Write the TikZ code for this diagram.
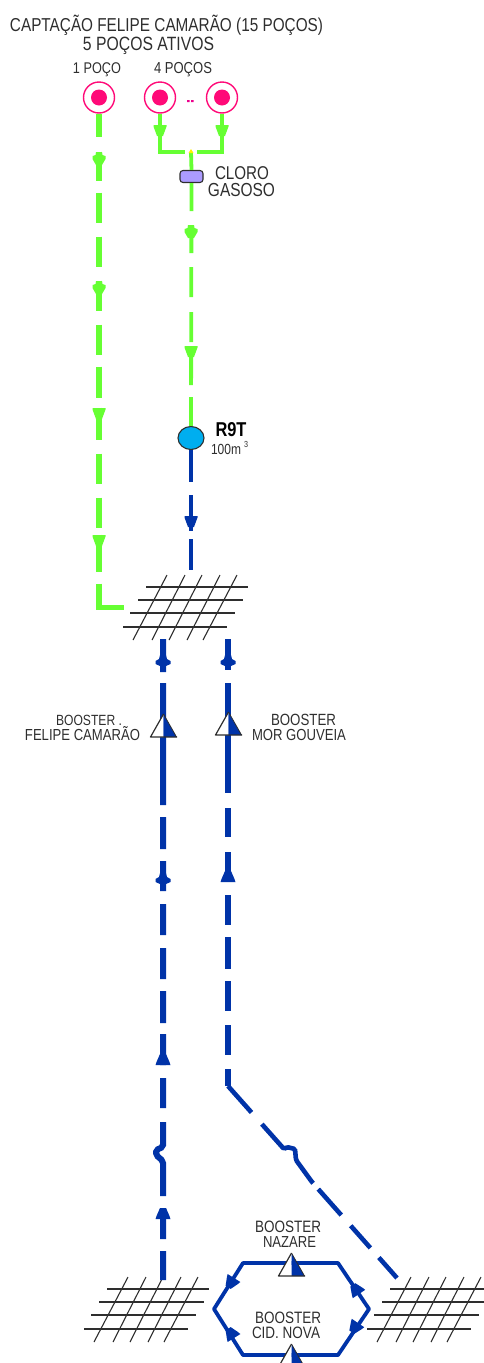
\documentclass[tikz,border=0pt]{standalone}
\usepackage{fontspec}
\usetikzlibrary{shapes.geometric}
\setmainfont{Liberation Sans}
\definecolor{pipegreen}{HTML}{66FF33}
\definecolor{pipeblue}{HTML}{0033A8}
\definecolor{wellpink}{HTML}{FF0A78}
\definecolor{tankblue}{HTML}{00AEEF}
\definecolor{gaspurple}{HTML}{AC9BFF}
\definecolor{ink}{HTML}{2E2E2E}
\newcommand{\lbl}[2]{\scalebox{1}[1.22]{\resizebox{#1pt}{!}{#2}}}
\tikzset{
  x=1pt,y=-1pt,
  well/.style={circle,draw=wellpink,line width=1.4pt,fill=white,minimum size=31pt,inner sep=0pt,
    path picture={\fill[wellpink] (path picture bounding box.center) circle (8pt);}},
  greenpipe/.style={draw=pipegreen,line width=5.6pt},
  thingreen/.style={draw=pipegreen,line width=3.8pt},
  bluepipe/.style={draw=pipeblue,line width=6pt},
  midblue/.style={draw=pipeblue,line width=4.6pt},
  hexpipe/.style={draw=pipeblue,line width=3.8pt},
  gridline/.style={draw=ink,line width=1.2pt},
  txt/.style={inner sep=0pt,text=ink,font=\fontsize{12}{12}\selectfont},
  pics/flatdown/.style={code={\fill[pic actions] (-6.5,0)--(6.5,0)--(6.5,1.5)--(3,11)--(-3,11)--(-6.5,1.5)--cycle;}},
  pics/blob/.style={code={\fill[pic actions] (-3,0)--(3,0)--(3.5,3)--(6.5,4)--(6.5,7)--(3,13)--(-3,13)--(-6.5,7)--(-6.5,4)--(-3.5,3)--cycle;}},
  pics/cross/.style={code={\fill[pic actions] (-3,0)--(3,0)--(4,4)--(7.5,6)--(7.5,9)--(3,11)--(-3,11)--(-7.5,9)--(-7.5,6)--(-4,4)--cycle;}},
  pics/flatup/.style={code={\fill[pic actions] (-7.5,0)--(7.5,0)--(6.5,-3)--(3,-11)--(-3,-11)--(-6.5,-3)--cycle;}},
  pics/booster/.style={code={
    \fill[white] (-13,0)--(0,-23)--(0,0)--cycle;
    \fill[pipeblue] (13,0)--(0,-23)--(0,0)--cycle;
    \draw[ink,line width=1.2pt,line join=round] (0,-23)--(-13,0)--(13.5,0);
    \draw[ink,line width=.8pt] (0,-23)--(13,0);}},
  pics/gridmesh/.style={code={
    \draw[gridline] (23,-14)--(125,-14) (15,-1)--(119.5,-1) (7,12)--(112,12) (0,26)--(104,26);
    \foreach \t/\b in {44/10,62/29,79/46,97/64,114/80}{\draw[gridline,line width=1.1pt] (\t,-26)--(\b,39);}
  }}
}
\begin{document}
\begin{tikzpicture}
\useasboundingbox (0,0) rectangle (483,1363);
% named points
\coordinate (grid1) at (123,601);
\coordinate (grid2) at (84,1303);
\coordinate (grid3) at (367,1303);
\coordinate (gridwest) at (124,607.5);
\coordinate (gridnorth) at (191,570);
\coordinate (leftcorner) at (99,607.5);
\coordinate (felsouth) at (163,639);
\coordinate (morsouth) at (228,639);
\coordinate (felend) at (163,1280);
\coordinate (morbend) at (228,1086);
\coordinate (morend) at (397,1278);
\coordinate (junc) at (191,152);
\coordinate (jl) at (185,152);
\coordinate (jr) at (197,152);
\coordinate (hw) at (214,1309);
\coordinate (he) at (369,1309);
\coordinate (htl) at (243,1263);
\coordinate (htr) at (338,1263);
\coordinate (hbl) at (243,1355);
\coordinate (hbr) at (338,1355);
% grids
\pic at (grid1) {gridmesh};
\pic at (grid2) {gridmesh};
\pic at (grid3) {gridmesh};
% wells, tank, chlorine
\node[well] (w1) at (99,97.5) {};
\node[well] (w2) at (160,97.5) {};
\node[well] (w3) at (222,97.5) {};
\node[ellipse,draw=ink,line width=1.1pt,fill=tankblue,minimum width=26pt,minimum height=23pt,inner sep=0pt] (tank) at (191,438) {};
\node[rectangle,rounded corners=3pt,draw=ink,line width=1.1pt,fill=gaspurple,minimum width=23pt,minimum height=12pt,inner sep=0pt] (cl) at (191.5,176.5) {};
% green pipes
\draw[greenpipe,line cap=butt,dash pattern=on 23pt off 15pt on 29pt off 12pt on 30pt off 14pt on 30pt off 14pt on 30pt off 14pt on 30pt off 12pt on 31pt off 10pt on 32pt off 14pt on 30pt off 14pt on 30pt off 7pt on 37pt off 12pt on 200pt]
  (w1.south) -- (leftcorner) -- (gridwest);
\draw[thingreen] (w2.south) |- (jl);
\draw[thingreen] (w3.south) |- (jr);
\draw[thingreen] (junc) -- (cl.north);
\draw[thingreen,dash pattern=on 28pt off 14pt on 28pt off 14pt on 30pt off 15pt on 30pt off 4pt on 39pt off 12pt on 60pt]
  (cl.south) -- (tank.north);
% blue pipes
\draw[midblue,dash pattern=on 32pt off 13pt on 36pt off 8pt on 40pt] (tank.south) -- (gridnorth);
\draw[bluepipe,rounded corners=2pt,dash pattern=on 33pt off 11pt on 122pt off 12pt on 32pt off 12pt on 30pt off 13pt on 31pt off 13pt on 31pt off 12pt on 32pt off 11pt on 31pt off 13pt on 30pt off 14pt on 80pt off 12pt on 31pt off 12pt on 40pt]
  (felsouth) -- (163,1147) -- (156,1150) -- (156,1155) -- (163,1161) -- (felend);
\draw[bluepipe,dash pattern=on 31pt off 13pt on 110pt off 15pt on 29pt off 15pt on 30pt off 13pt on 30pt off 12pt on 32pt off 12pt on 30pt off 14pt on 30pt off 14pt on 20pt]
  (morsouth) -- (morbend);
\draw[midblue,rounded corners=1.5pt,dash pattern=on 35.4pt off 15.6pt on 83.4pt off 7.8pt on 34.7pt off 14.2pt on 29.7pt off 12.8pt on 40pt]
  (morbend) -- (284,1149) -- (287,1147) -- (295,1149) -- (296,1160) -- (312,1182) -- (morend);
\draw[hexpipe,line join=round] (htl) -- (hw) -- (hbl) -- (hbr) -- (he) -- (htr) -- cycle;
% arrow heads
\foreach \y in {152,281} {\pic[fill=pipegreen] at (99,\y) {blob};}
\foreach \y in {408,535} {\pic[fill=pipegreen] at (99,\y) {flatdown};}
\pic[fill=pipegreen] at (160,125) {flatdown};
\pic[fill=pipegreen] at (222,125) {flatdown};
\pic[fill=pipegreen] at (191,225) {blob};
\pic[fill=pipegreen] at (191,346) {flatdown};
\pic[fill=pipeblue] at (191,516) {flatdown};
\foreach \x/\y in {163/655,228/655,163/873} {\pic[fill=pipeblue] at (\x,\y) {cross};}
\pic[fill=pipeblue] at (228,882) {flatup};
\pic[fill=pipeblue] at (163,1065) {flatup};
\pic[fill=pipeblue] at (163,1219) {flatup};
\pic[fill=pipeblue,rotate=34] at (359,1294) {flatup};
\pic[fill=pipeblue,rotate=146] at (358,1323) {flatup};
\pic[fill=pipeblue,rotate=32] at (234,1338) {flatup};
\pic[fill=pipeblue,rotate=148] at (234,1278) {flatup};
% boosters
\pic at (163.5,737) {booster};
\pic at (228.5,735) {booster};
\pic at (291.5,1276) {booster};
\pic at (291.5,1367) {booster};
% small marks
\fill[yellow] (188.5,153)--(191,149)--(193.5,153)--cycle;
\fill[magenta] (187,100) rectangle (189.5,102) (191,100) rectangle (193.5,102);
% labels
\node[txt] (t1) at (166.5,25) {\lbl{313}{CAPTAÇÃO FELIPE CAMARÃO (15 POÇOS)}};
\node[txt] (t2) at (148.5,46) {\lbl{131}{5 POÇOS  ATIVOS}};
\node[txt] (t3) at (97,70) {\lbl{48}{1 POÇO}};
\node[txt] (t4) at (183,70) {\lbl{58}{4 POÇOS}};
\node[txt] (t5) at (242,173) {\lbl{54}{CLORO}};
\node[txt] (t6) at (241.5,190) {\lbl{67}{GASOSO}};
\node[txt,text=black] (t7) at (231,429.5) {\lbl{31}{\textbf{R9T}}};
\node[txt] (t8) at (226,449) {\lbl{30}{100m}};
\node[txt] (t9) at (246,444) {\lbl{4}{3}};
\node[txt] (t10) at (89,720) {\lbl{66}{BOOSTER .}};
\node[txt] (t11) at (82.5,734) {\lbl{115}{FELIPE CAMARÃO}};
\node[txt] (t12) at (303.5,720) {\lbl{65}{BOOSTER}};
\node[txt] (t13) at (299,735) {\lbl{94}{MOR GOUVEIA}};
\node[txt] (t14) at (288,1227) {\lbl{66}{BOOSTER}};
\node[txt] (t15) at (289.5,1242) {\lbl{53}{NAZARE}};
\node[txt] (t16) at (288,1318) {\lbl{66}{BOOSTER}};
\node[txt] (t17) at (286,1333) {\lbl{68}{CID. NOVA}};
\end{tikzpicture}
\end{document}
